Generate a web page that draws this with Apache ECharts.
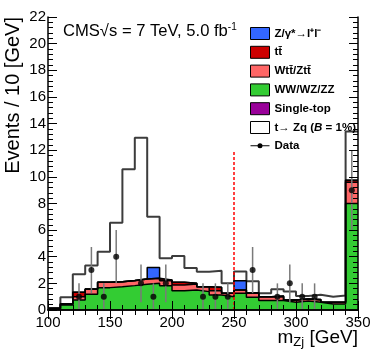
<!DOCTYPE html>
<html>
<head>
<meta charset="utf-8">
<script src="https://cdn.jsdelivr.net/npm/echarts@6/dist/echarts.min.js"></script>
<style>
  html, body { margin: 0; padding: 0; background: #fff; }
  #chart { width: 374px; height: 359px; }
</style>
</head>
<body>
<div id="chart"></div>
<script>
// bin edges of m_Zj [GeV], 10 GeV bins
const binEdges = [100, 110, 120, 130, 140, 150, 160, 170, 180, 190, 200, 210, 220,
  230, 240, 250, 260, 270, 280, 290, 300, 310, 320, 330, 340, 350];
const binCenters = [105, 115, 125, 135, 145, 155, 165, 175, 185, 195, 205, 215, 225,
  235, 245, 255, 265, 275, 285, 295, 305, 315, 325, 335, 345];

// per-bin yields (not stacked)
const diboson = [0.1, 0.38, 0.75, 1.18, 1.68, 1.75, 1.83, 1.93, 2.0, 1.83, 1.45, 1.5, 1.38,
  1.13, 1.0, 1.25, 0.95, 0.72, 0.72, 0.58, 0.68, 0.58, 0.45, 0.45, 8.0];
const ttV = [0.02, 0.05, 0.25, 0.37, 0.4, 0.38, 0.37, 0.4, 0.38, 0.37, 0.43, 0.45, 0.37,
  0.32, 0.25, 0.25, 0.3, 0.28, 0.25, 0.17, 0.15, 0.17, 0.13, 0.13, 1.6];
const ttbar = [0, 0.03, 0.33, 0.02, 0, 0, 0.02, 0, 0, 0.05, 0.2, 0.05, 0,
  0.25, 0, 0, 0.05, 0, 0.08, 0, 0, 0.03, 0, 0, 0.15];
const zjets = [0, 0, 0, 0, 0, 0, 0, 0, 0.82, 0, 0, 0, 0,
  0, 0, 0.7, 0, 0, 0, 0, 0, 0, 0, 0, 0];
const singleTop = [0, 0, 0, 0, 0, 0, 0, 0, 0, 0, 0, 0, 0,
  0, 0, 0, 0, 0, 0, 0, 0, 0, 0, 0, 0];
const signal = [0.03, 0.49, 1.35, 1.78, 2.3, 4.43, 8.34, 10.61, 3.8, 1.63, 1.97, 1.15, 1.13,
  1.25, 0.75, 0.7, 0.85, 0.25, 0.5, 0.63, 0.22, 0.37, 0.42, 0.5, 3.65];
const dataCounts = [0, 0, 1, 3, 1, 4, 0, 2, 1, 2, 0, 0, 1,
  1, 1, 0, 3, 0, 1, 2, 1, 1, 0, 0, 9];

const cutLine = [[250, 0], [250, 12]];

const names = {
  z: 'Z/γ*→l⁺l⁻',
  tt: 'tt̄',
  ttv: 'Wtt̄/Ztt̄',
  vv: 'WW/WZ/ZZ',
  st: 'Single-top',
  sig: 't→ Zq (B = 1%)',
  data: 'Data'
};

const font = 'Liberation Sans, Arial, Helvetica, sans-serif';

function addUp(a, b) {
  return a.map((v, i) => v + b[i]);
}
const sumVV = diboson;
const sumTTV = addUp(sumVV, ttV);
const sumTT = addUp(sumTTV, ttbar);
const sumZ = addUp(sumTT, zjets);
const sumST = addUp(sumZ, singleTop);
const sumSig = addUp(sumST, signal);

function stepSeries(name, vals, fill, line, width, z) {
  return {
    name: name,
    type: 'line',
    step: 'end',
    symbol: 'none',
    z: z,
    data: binEdges.map((e, i) => [e, vals[Math.min(i, vals.length - 1)]]),
    itemStyle: { color: fill },
    lineStyle: { color: line, width: width },
    areaStyle: { color: fill, opacity: 1 },
    silent: true
  };
}

const points = [];
dataCounts.forEach((n, i) => {
  if (n > 0) points.push([binCenters[i], n, Math.sqrt(n)]);
});

const chart = echarts.init(document.getElementById('chart'));

const axisCommon = {
  axisLine: { show: true, lineStyle: { color: '#000', width: 1.5 } },
  axisTick: { show: true, inside: true, length: 9, lineStyle: { color: '#000', width: 1 } },
  minorTick: { show: true, splitNumber: 5, length: 5, lineStyle: { color: '#000', width: 1 } },
  splitLine: { show: false },
  z: 10
};

chart.setOption({
  animation: false,
  backgroundColor: '#fff',
  grid: { left: 48, right: 16, top: 17, bottom: 49 },
  xAxis: [
    Object.assign({
      type: 'value', min: 100, max: 350, interval: 50, position: 'bottom',
      axisLabel: { fontFamily: font, fontSize: 15, color: '#000', margin: 5 }
    }, axisCommon),
    Object.assign({
      type: 'value', min: 100, max: 350, interval: 50, position: 'top',
      axisLabel: { show: false }
    }, axisCommon)
  ],
  yAxis: [
    Object.assign({
      type: 'value', min: 0, max: 22, interval: 2, position: 'left',
      axisLabel: { fontFamily: font, fontSize: 15, color: '#000', margin: 2 }
    }, axisCommon),
    Object.assign({
      type: 'value', min: 0, max: 22, interval: 2, position: 'right',
      axisLabel: { show: false }
    }, axisCommon)
  ],
  legend: {
    left: 245,
    top: 22,
    orient: 'vertical',
    itemWidth: 19,
    itemHeight: 12,
    itemGap: 5.8,
    selectedMode: false,
    textStyle: {
      fontFamily: font, fontWeight: 'bold', fontSize: 11.5, color: '#000', lineHeight: 12,
      rich: {
        b: { fontFamily: font, fontWeight: 'bold', fontSize: 11.5, color: '#000' },
        i: { fontFamily: font, fontWeight: 'bold', fontStyle: 'italic', fontSize: 11.5, color: '#000' }
      }
    },
    formatter: function (n) {
      if (n === names.sig) return '{b|t→ Zq (}{i|B}{b| = 1%)}';
      return n;
    },
    data: [
      { name: names.z, icon: 'rect', itemStyle: { color: '#3366ff', borderColor: '#000', borderWidth: 1 } },
      { name: names.tt, icon: 'rect', itemStyle: { color: '#cc0000', borderColor: '#000', borderWidth: 1 } },
      { name: names.ttv, icon: 'rect', itemStyle: { color: '#ff6666', borderColor: '#000', borderWidth: 1 } },
      { name: names.vv, icon: 'rect', itemStyle: { color: '#33cc33', borderColor: '#000', borderWidth: 1 } },
      { name: names.st, icon: 'rect', itemStyle: { color: '#990099', borderColor: '#000', borderWidth: 1 } },
      { name: names.sig, icon: 'rect', itemStyle: { color: '#fff', borderColor: '#000', borderWidth: 1 } },
      { name: names.data,
        icon: 'path://M0,0h0.01v0.01h-0.01z M18.99,11.99h0.01v0.01h-0.01z M0,5.5h19v1h-19z M7,6a2.5,2.5 0 1,1 5,0a2.5,2.5 0 1,1 -5,0z',
        itemStyle: { color: '#000', borderColor: '#000', borderWidth: 0, opacity: 1 } }
    ]
  },
  graphic: [
    {
      type: 'text', left: 63, top: 22, z: 20,
      style: {
        text: '{a|CMS√s = 7 TeV, 5.0 fb}{b|-1}',
        rich: {
          a: { fontFamily: font, fontSize: 16.6, color: '#000', lineHeight: 18 },
          b: { fontFamily: font, fontSize: 10, color: '#000', verticalAlign: 'top', lineHeight: 18 }
        }
      }
    },
    {
      type: 'text', x: 13, y: 17, rotation: Math.PI / 2, z: 20,
      style: {
        text: 'Events / 10 [GeV]', fontFamily: font, fontSize: 20, fill: '#000',
        align: 'right', verticalAlign: 'middle'
      }
    },
    {
      type: 'text', right: 16, top: 328, z: 20,
      style: {
        text: '{m|m}{s|Zj}{m| [GeV]}',
        rich: {
          m: { fontFamily: font, fontSize: 19, color: '#000' },
          s: { fontFamily: font, fontSize: 13, color: '#000', padding: [10, 0, 0, 0] }
        }
      }
    }
  ],
  series: [
    stepSeries(names.sig, sumSig, '#ffffff', '#3c3c3c', 2, 2),
    stepSeries(names.st, sumST, '#990099', '#000', 0, 3),
    stepSeries(names.z, sumZ, '#3366ff', '#000', 1.5, 3),
    stepSeries(names.tt, sumTT, '#cc0000', '#000', 1.5, 3),
    stepSeries(names.ttv, sumTTV, '#ff6666', '#000', 1.5, 3),
    stepSeries(names.vv, sumVV, '#33cc33', '#000', 1.5, 3),
    {
      name: 'cut',
      type: 'line',
      symbol: 'none',
      z: 5,
      silent: true,
      data: cutLine,
      lineStyle: { color: '#ff0000', width: 1.5, type: [3, 2] }
    },
    {
      name: 'Data errors',
      type: 'custom',
      z: 6,
      silent: true,
      data: points,
      encode: { x: 0, y: 1 },
      renderItem: function (params, api) {
        const x = api.value(0), y = api.value(1), e = api.value(2);
        const lo = api.coord([x, Math.max(0, y - e)]);
        const hi = api.coord([x, y + e]);
        return {
          type: 'line',
          shape: { x1: lo[0], y1: lo[1], x2: hi[0], y2: hi[1] },
          style: { stroke: '#7a7a7a', lineWidth: 1.5 }
        };
      }
    },
    {
      name: names.data,
      type: 'scatter',
      z: 7,
      silent: true,
      symbol: 'circle',
      symbolSize: 6,
      itemStyle: { color: '#000' },
      data: points.map(p => [p[0], p[1]])
    }
  ]
});
</script>
</body>
</html>
